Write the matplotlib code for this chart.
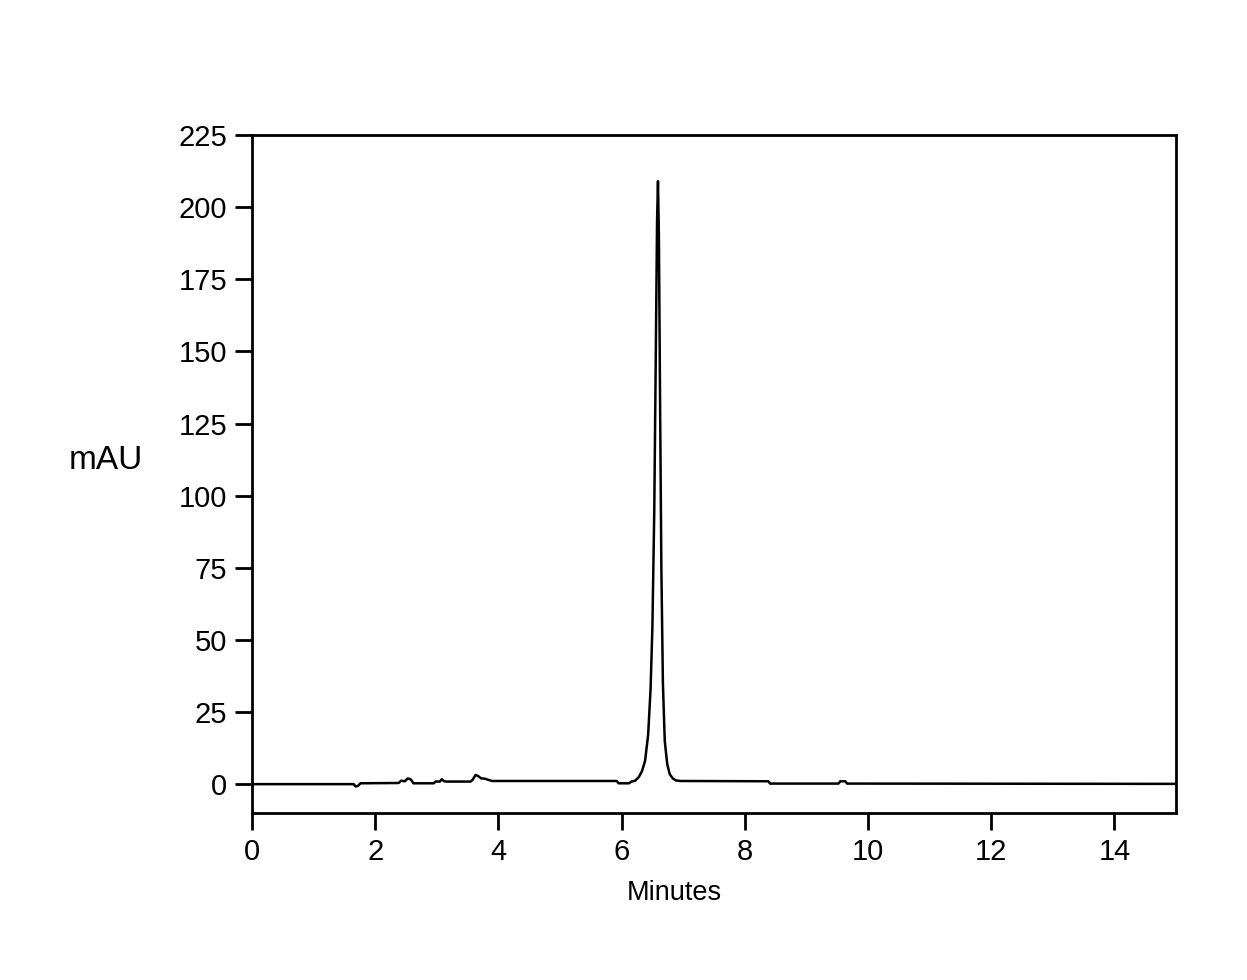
import matplotlib
matplotlib.use("Agg")
import matplotlib.pyplot as plt

plt.rcParams['font.family'] = ['Liberation Sans', 'DejaVu Sans']

# chromatogram trace (minutes, mAU)
time_min = [0.0, 1.65, 1.68, 1.72, 1.76, 2.38, 2.42, 2.48, 2.53, 2.58, 2.62, 2.66,
            2.95, 2.98, 3.05, 3.08, 3.12, 3.15, 3.55, 3.58, 3.63, 3.67, 3.72, 3.78,
            3.85, 3.9, 5.92, 5.95, 6.12, 6.16, 6.22, 6.28, 6.33, 6.38, 6.43, 6.47,
            6.5, 6.53, 6.555, 6.575, 6.59, 6.605, 6.625, 6.645, 6.67, 6.7, 6.74,
            6.78, 6.83, 6.88, 6.95, 8.38, 8.41, 9.52, 9.55, 9.63, 9.66, 15.0]
mau = [0.0, 0.0, -0.8, -0.6, 0.3, 0.4, 1.2, 1.0, 2.0, 1.6, 0.3, 0.3,
       0.3, 0.9, 0.9, 1.7, 1.0, 0.9, 0.9, 1.5, 3.2, 2.8, 2.0, 1.9,
       1.4, 1.1, 1.1, 0.3, 0.3, 0.9, 1.2, 2.5, 4.5, 8.0, 17.0, 33.0,
       55.0, 95.0, 150.0, 195.0, 209.0, 190.0, 130.0, 75.0, 35.0, 15.0, 7.0,
       3.5, 2.0, 1.3, 1.1, 1.0, 0.2, 0.2, 1.0, 1.0, 0.2, 0.1]

fig = plt.figure(figsize=(12.47, 9.8), dpi=100)
ax = fig.add_axes([0.2021, 0.1704, 0.9431 - 0.2021, 0.8622 - 0.1704])

ax.plot(time_min, mau, color='black', linewidth=1.8)

ax.set_xlim(0, 15)
ax.set_ylim(-10, 225)
ax.set_xticks(range(0, 15, 2))
ax.set_yticks(range(0, 226, 25))

for side in ax.spines.values():
    side.set_linewidth(2)
ax.tick_params(direction='out', length=12, width=2, labelsize=21, pad=6)

# axis titles sit where the original put them
fig.text(0.541, 0.089, 'Minutes', fontsize=19.5, ha='center', va='center')
fig.text(0.085, 0.5296, 'mAU', fontsize=24, ha='center', va='center')

fig.savefig('out.png', dpi=100)
